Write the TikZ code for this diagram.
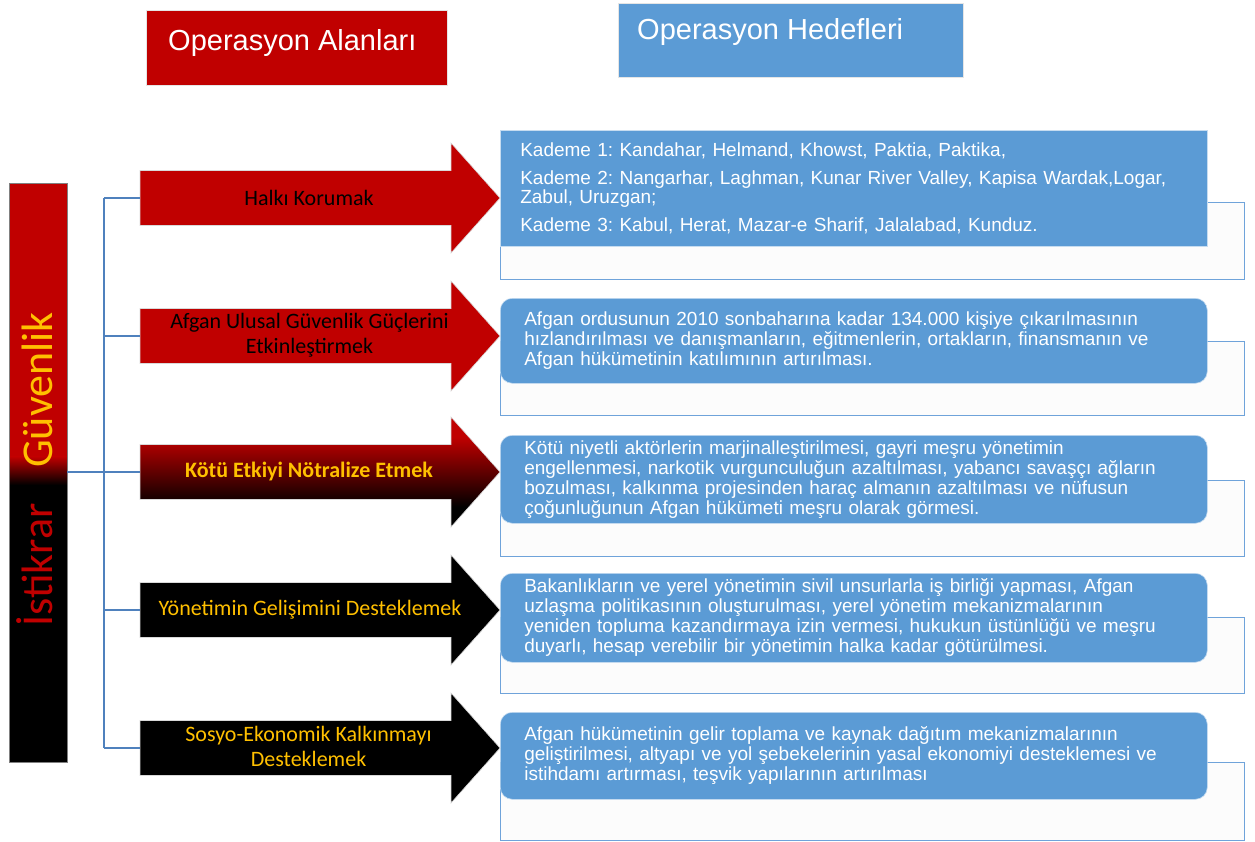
\documentclass[tikz,border=0pt]{standalone}
\usepackage{fontspec}
\setmainfont{Liberation Sans}
\newfontfamily\calfont{Carlito}
\definecolor{areared}{HTML}{C00000}
\definecolor{goalblue}{HTML}{5B9BD5}
\definecolor{gold}{HTML}{FFC000}
\definecolor{linkblue}{HTML}{4F81BD}
\definecolor{frameblue}{HTML}{6FA3DA}
\definecolor{kotumid}{HTML}{600000}
% red-to-black fade used on the third arrow
\pgfdeclareverticalshading{kotu}{100bp}{color(0bp)=(black); color(34bp)=(black); color(50bp)=(kotumid); color(66bp)=(areared); color(100bp)=(areared)}
\frenchspacing
\begin{document}
\begin{tikzpicture}[x=1pt,y=-1pt,
  header/.style={anchor=north west, inner sep=0pt, draw=white!80!gray, line width=0.6pt},
  headtext/.style={anchor=base west, inner sep=0pt, text=white, font=\fontsize{29}{32}\selectfont},
  oparrow/.pic={\path[pic actions] (0,-27.5) -- (311,-27.5) -- (311,-55) -- (360,0) -- (311,55) -- (311,27.5) -- (0,27.5) -- cycle;},
  arrowedge/.style={draw=white!70!gray, line width=0.6pt},
  areatext/.style={align=center, inner sep=0pt, font=\calfont\fontsize{22}{25}\selectfont},
  goal/.style={anchor=north west, fill=goalblue, draw=white!65!goalblue, line width=0.6pt,
    text=white, align=left, inner ysep=0pt, rounded corners=12pt,
    font=\fontsize{19}{20}\selectfont},
  frame/.style={anchor=north west, fill=white!98!gray, draw=frameblue, line width=1.4pt,
    inner sep=0pt, minimum width=744pt},
  link/.style={draw=linkblue, line width=1.6pt},
  bartext/.style={rotate=90, anchor=base, inner sep=0pt, font=\calfont\fontsize{44}{48}\selectfont}
]
\useasboundingbox (0,0) rectangle (1255,841);

% column headers
\node (hdrA) [header, fill=areared, minimum width=301pt, minimum height=75pt] at (146,10) {};
\node (hdrAt) [headtext] at (168,50) {Operasyon Alanları};
\node (hdrB) [header, fill=goalblue, minimum width=345pt, minimum height=74pt] at (618,3) {};
\node (hdrBt) [headtext] at (637,39) {Operasyon Hedefleri};

% vertical band: security on top, stability below
\fill[areared] (9,183) rectangle (67,457);
\shade[top color=areared, bottom color=black] (9,456.5) rectangle (67,485);
\fill[black] (9,484.5) rectangle (67,762);
\node (bar) [draw=gray, line width=0.6pt, minimum width=58pt, minimum height=579pt, inner sep=0pt] at (38,472.5) {};
\node (sec) [bartext, text=gold] at (52,390) {Güvenlik};
\node (stab) [bartext, text=areared] at (52,565) {İstikrar};

% frames behind the goal boxes
\node (f1) [frame, minimum height=77pt] at (500,202) {};
\node (f2) [frame, minimum height=74pt] at (500,341) {};
\node (f3) [frame, minimum height=76pt] at (500,480) {};
\node (f4) [frame, minimum height=76pt] at (500,617) {};
\node (f5) [frame, minimum height=78pt] at (500,762) {};

% goal boxes
\node (g1) [goal, rounded corners=0pt, inner xsep=20pt, text width=667pt, minimum height=116pt,
  font=\fontsize{19}{19}\selectfont] at (500,130) {%
Kademe 1: Kandahar, Helmand, Khowst, Paktia, Paktika,\\[9pt]
Kademe 2: Nangarhar, Laghman, Kunar River Valley, Kapisa Wardak,Logar,\\
Zabul, Uruzgan;\\[9pt]
Kademe 3: Kabul, Herat, Mazar-e Sharif, Jalalabad, Kunduz.};
\node (g2) [goal, inner xsep=24pt, text width=659pt, minimum height=85pt] at (500,298) {%
Afgan ordusunun 2010 sonbaharına kadar 134.000 kişiye çıkarılmasının\\
hızlandırılması ve danışmanların, eğitmenlerin, ortakların, finansmanın ve\\
Afgan hükümetinin katılımının artırılması.};
\node (g3) [goal, inner xsep=24pt, text width=659pt, minimum height=88pt] at (500,435) {%
Kötü niyetli aktörlerin marjinalleştirilmesi, gayri meşru yönetimin\\
engellenmesi, narkotik vurgunculuğun azaltılması, yabancı savaşçı ağların\\
bozulması, kalkınma projesinden haraç almanın azaltılması ve nüfusun\\
çoğunluğunun Afgan hükümeti meşru olarak görmesi.};
\node (g4) [goal, inner xsep=24pt, text width=659pt, minimum height=89pt] at (500,573) {%
Bakanlıkların ve yerel yönetimin sivil unsurlarla iş birliği yapması, Afgan\\
uzlaşma politikasının oluşturulması, yerel yönetim mekanizmalarının\\
yeniden topluma kazandırmaya izin vermesi, hukukun üstünlüğü ve meşru\\
duyarlı, hesap verebilir bir yönetimin halka kadar götürülmesi.};
\node (g5) [goal, inner xsep=24pt, text width=659pt, minimum height=87pt] at (500,712) {%
Afgan hükümetinin gelir toplama ve kaynak dağıtım mekanizmalarının\\
geliştirilmesi, altyapı ve yol şebekelerinin yasal ekonomiyi desteklemesi ve\\
istihdamı artırması, teşvik yapılarının artırılması};

% operation area arrows
\coordinate (a1) at (140,198);
\coordinate (a2) at (140,336);
\coordinate (a3) at (140,472);
\coordinate (a4) at (140,610);
\coordinate (a5) at (140,748);
\coordinate (trunk) at (104,0);
\pic[fill=areared, arrowedge] at (a1) {oparrow};
\pic[fill=areared, arrowedge] at (a2) {oparrow};
\pic[shade, shading=kotu, arrowedge] at (a3) {oparrow};
\pic[fill=black, arrowedge] at (a4) {oparrow};
\pic[fill=black, arrowedge] at (a5) {oparrow};

\node (l1) [areatext, text=black] at (309,198) {Halkı Korumak};
\node (l2) [areatext, text=black] at (309.5,335) {Afgan Ulusal Güvenlik Güçlerini\\Etkinleştirmek};
\node (l3) [areatext, text=gold, font=\calfont\bfseries\fontsize{22}{25}\selectfont] at (309,472) {Kötü Etkiyi Nötralize Etmek};
\node (l4) [areatext, text=gold] at (310,610) {Yönetimin Gelişimini Desteklemek};
\node (l5) [areatext, text=gold] at (308.5,746) {Sosyo-Ekonomik Kalkınmayı\\Desteklemek};

% tree connecting the band to the arrows
\draw[link] (a1 -| trunk) -- (a5 -| trunk);
\draw[link] (bar.east |- a3) -- (a3);
\draw[link] (a1 -| trunk) -- (a1);
\draw[link] (a2 -| trunk) -- (a2);
\draw[link] (a4 -| trunk) -- (a4);
\draw[link] (a5 -| trunk) -- (a5);
\end{tikzpicture}
\end{document}
